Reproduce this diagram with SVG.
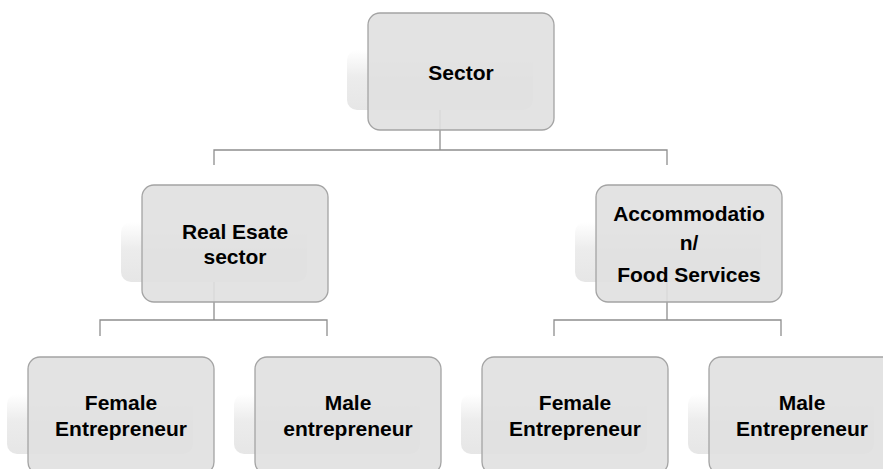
<svg xmlns="http://www.w3.org/2000/svg" width="883" height="469" viewBox="0 0 883 469">
  <defs>
    <linearGradient id="shadeGrad" x1="0" y1="0" x2="0" y2="1">
      <stop offset="0" stop-color="#ffffff"/>
      <stop offset="0.45" stop-color="#ececec"/>
      <stop offset="1" stop-color="#e6e6e6"/>
    </linearGradient>
  </defs>
  <style>
    .wire { fill: none; stroke: #8e8e8e; stroke-width: 1.3; }
    .shade { fill: url(#shadeGrad); }
    .card { fill: #e0e0e0; fill-opacity: 0.9; stroke: #a4a4a4; stroke-width: 1.3; }
    .label { font-family: "Liberation Sans", Arial, sans-serif; font-weight: bold; font-size: 21px; fill: #000000; text-anchor: middle; }
  </style>
  <rect width="883" height="469" fill="#ffffff"/>

  <!-- connectors -->
  <g id="connectors">
    <path class="wire" d="M440,110 V150 M214,165 V150 H667 V165"/>
    <path class="wire" d="M214,282 V320 M100,336 V320 H327 V336"/>
    <path class="wire" d="M667,282 V320 M554,336 V320 H781 V336"/>
  </g>

  <g id="sector">
    <rect class="shade" x="347" y="50" width="186" height="60" rx="10"/>
    <rect class="card" x="368" y="13" width="186" height="117" rx="12"/>
    <text class="label" x="461" y="80">Sector</text>
  </g>

  <g id="real-estate">
    <rect class="shade" x="121" y="222" width="186" height="60" rx="10"/>
    <rect class="card" x="142" y="185" width="186" height="117" rx="12"/>
    <text class="label" x="235" y="239">Real Esate</text>
    <text class="label" x="235" y="264">sector</text>
  </g>

  <g id="accommodation">
    <rect class="shade" x="575" y="222" width="186" height="60" rx="10"/>
    <rect class="card" x="596" y="185" width="186" height="117" rx="12"/>
    <text class="label" x="689" y="221">Accommodatio</text>
    <text class="label" x="689" y="250">n/</text>
    <text class="label" x="689" y="282">Food Services</text>
  </g>

  <g id="female-real-estate">
    <rect class="shade" x="7" y="394" width="186" height="60" rx="10"/>
    <rect class="card" x="28" y="357" width="186" height="117" rx="12"/>
    <text class="label" x="121" y="410">Female</text>
    <text class="label" x="121" y="436">Entrepreneur</text>
  </g>

  <g id="male-real-estate">
    <rect class="shade" x="234" y="394" width="186" height="60" rx="10"/>
    <rect class="card" x="255" y="357" width="186" height="117" rx="12"/>
    <text class="label" x="348" y="410">Male</text>
    <text class="label" x="348" y="436">entrepreneur</text>
  </g>

  <g id="female-accommodation">
    <rect class="shade" x="461" y="394" width="186" height="60" rx="10"/>
    <rect class="card" x="482" y="357" width="186" height="117" rx="12"/>
    <text class="label" x="575" y="410">Female</text>
    <text class="label" x="575" y="436">Entrepreneur</text>
  </g>

  <g id="male-accommodation">
    <rect class="shade" x="688" y="394" width="186" height="60" rx="10"/>
    <rect class="card" x="709" y="357" width="186" height="117" rx="12"/>
    <text class="label" x="802" y="410">Male</text>
    <text class="label" x="802" y="436">Entrepreneur</text>
  </g>
</svg>
